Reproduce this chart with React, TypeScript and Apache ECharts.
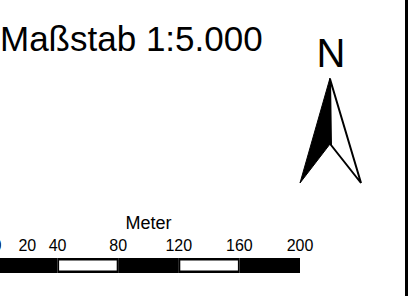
import React, { useEffect, useRef } from "react";
import * as echarts from "echarts";

const titleText = "Maßstab 1:5.000";
const northLabel = "N";
const unitName = "Meter";
const scaleBreaks = [0, 40, 80, 120, 160, 200];
const tickLabels = [0, 20, 40, 80, 120, 160, 200];

const FONT = "'Liberation Sans', Arial, sans-serif";

export default function App() {
  const ref = useRef<HTMLDivElement>(null);
  useEffect(() => {
    if (!ref.current) return;
    const chart = echarts.init(ref.current, null, { renderer: "svg" });
    const segData = scaleBreaks.slice(0, -1).map((s, i) => [s, scaleBreaks[i + 1]]);
    chart.setOption({
      animation: false,
      backgroundColor: "#ffffff",
      grid: {
        left: -3,
        width: 303,
        top: 258,
        height: 15,
        containLabel: false,
        outerBoundsMode: "none",
      },
      xAxis: {
        type: "value",
        min: 0,
        max: 200,
        interval: 20,
        position: "top",
        name: unitName,
        nameLocation: "middle",
        nameGap: 26,
        nameTextStyle: { fontFamily: FONT, fontSize: 18, color: "#000" },
        axisLine: { show: false },
        axisTick: { show: false },
        splitLine: { show: false },
        axisLabel: {
          show: true,
          margin: 5,
          fontFamily: FONT,
          fontSize: 16,
          color: "#000",
          hideOverlap: false,
          formatter: (v: number) => (tickLabels.includes(v) ? String(v) : ""),
        },
      },
      yAxis: { type: "value", min: 0, max: 1, show: false },
      series: [
        {
          type: "custom",
          clip: false,
          data: segData,
          renderItem: (params: any, api: any) => {
            const a = api.coord([api.value(0), 1]);
            const b = api.coord([api.value(1), 0]);
            const x = a[0], y = a[1], w = b[0] - a[0], h = b[1] - a[1];
            const children: any[] = [
              { type: "rect", shape: { x, y, width: w, height: h }, style: { fill: "#000" } },
            ];
            if (params.dataIndex % 2 === 1) {
              children.push({
                type: "rect",
                shape: { x: x + 1.5, y: y + 2.5, width: w - 3, height: h - 5 },
                style: { fill: "#fff" },
              });
            }
            return { type: "group", children };
          },
        },
      ],
      graphic: [
        {
          type: "text",
          left: 0,
          top: 21,
          style: { text: titleText, font: `35px ${FONT}`, fill: "#000" },
        },
        {
          type: "text",
          x: 331,
          y: 33,
          style: { text: northLabel, font: `40px ${FONT}`, fill: "#000", align: "center", verticalAlign: "top" },
        },
        {
          type: "polygon",
          shape: { points: [[330, 78], [300, 183], [330, 144]] },
          style: { fill: "#000", stroke: "#000", lineWidth: 1 },
        },
        {
          type: "polygon",
          shape: { points: [[330, 79], [361, 183], [331, 145]] },
          style: { fill: "#fff", stroke: "#000", lineWidth: 2, lineJoin: "miter" },
        },
        {
          type: "line",
          shape: { x1: 406.5, y1: 0, x2: 406.5, y2: 296 },
          style: { stroke: "#000", lineWidth: 3 },
        },
      ],
    });
    return () => chart.dispose();
  }, []);
  return (
    <div
      ref={ref}
      style={{ position: "fixed", left: 0, top: 0, width: 420, height: 296 }}
    />
  );
}
